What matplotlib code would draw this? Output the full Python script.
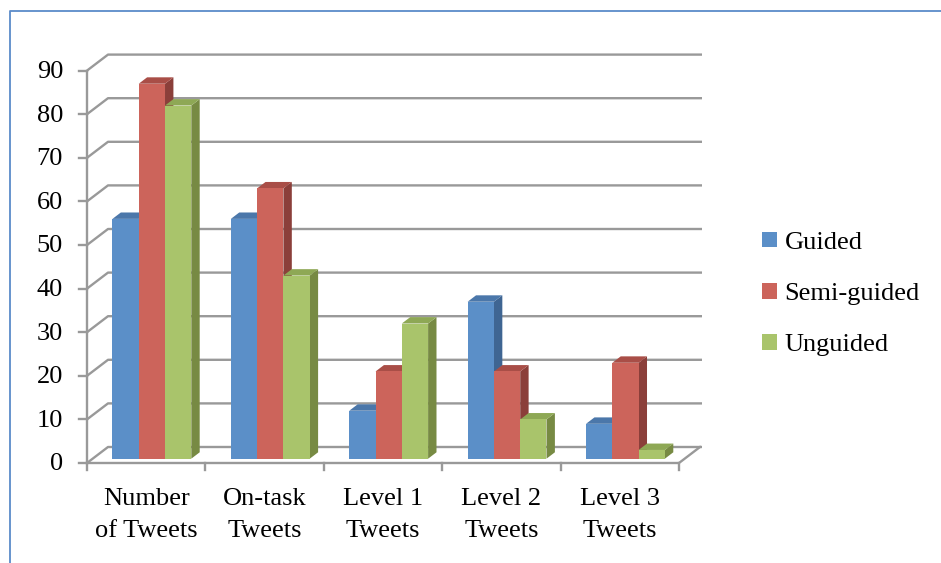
import matplotlib
matplotlib.use('Agg')
import matplotlib.pyplot as plt
from matplotlib.patches import Polygon, Patch
from matplotlib.lines import Line2D

# ---------------- data ----------------
categories = ['Number\nof Tweets', 'On-task\nTweets', 'Level 1\nTweets',
              'Level 2\nTweets', 'Level 3\nTweets']
series_names = ['Guided', 'Semi-guided', 'Unguided']
guided = [55, 55, 11, 36, 8]
semi_guided = [86, 62, 20, 20, 22]
unguided = [81, 42, 31, 9, 2]
y_ticks = [0, 10, 20, 30, 40, 50, 60, 70, 80, 90]

# ---------------- styles ----------------
front_colors = ['#5B8FC8', '#CC645B', '#A9C46B']
top_colors = ['#4B77AA', '#A94E47', '#8EA855']
side_colors = ['#3F6592', '#8B3F3A', '#778A43']
grid_color = '#999999'
font = 'Liberation Serif'
fs = 19

W, H = 941, 563
fig = plt.figure(figsize=(W / 100, H / 100), dpi=100)
ax = fig.add_axes([0, 0, 1, 1])

# pixel geometry of the plot
x0_px = 87.0      # front vertical axis
cat_px = 118.4    # width of one category slot
y0_px = 463.0     # value 0 on the front plane (from top)
unit_px = 4.36    # pixels per unit
ax.set_xlim(-0.5 - x0_px / cat_px, -0.5 + (W - x0_px) / cat_px)
ax.set_ylim((y0_px - H) / unit_px, y0_px / unit_px)
ax.axis('off')

DX = 21 / cat_px   # depth offset (x) of back wall
DY = 16 / unit_px  # depth offset (y) of back wall
n = len(categories)
xl, xr = -0.5, n - 0.5
ymax = y_ticks[-1]

glw = 1.7
# back-wall gridlines and left wall diagonals
for v in y_ticks:
    ax.plot([xl, xl + DX, xr + DX + 2 / cat_px], [v, v + DY, v + DY], color=grid_color,
            lw=glw, solid_capstyle='butt', zorder=1)
    # tick marks on the front axis
    ax.plot([xl - 8 / cat_px, xl], [v, v], color=grid_color, lw=glw, zorder=1)
    ax.text(xl - 24 / cat_px, v - 0.3, str(v), ha='right', va='center',
            fontsize=fs, family=font, color='black')

# front axis line
ax.plot([xl, xl], [0, ymax], color=grid_color, lw=glw, zorder=1)
# floor front edge and right edge
ax.plot([xl, xr, xr + DX], [0, 0, DY], color=grid_color, lw=glw, zorder=1)
for i in range(n + 1):
    ax.plot([xl + i, xl + i], [0, -7 / unit_px], color=grid_color, lw=glw, zorder=1)

# bars
series = [guided, semi_guided, unguided]
bw = 0.222
t0 = 0.27
tb = 0.40
z = 2
for i in range(n):
    for k, vals in enumerate(series):
        v = vals[i]
        x = i - 1.5 * bw + k * bw + t0 * DX
        b = t0 * DY
        ddx, ddy = tb * DX, tb * DY
        side = Polygon([(x + bw, b), (x + bw, b + v), (x + bw + ddx, b + v + ddy),
                        (x + bw + ddx, b + ddy)], closed=True,
                       facecolor=side_colors[k], edgecolor='none', zorder=z)
        top = Polygon([(x, b + v), (x + bw, b + v), (x + bw + ddx, b + v + ddy),
                       (x + ddx, b + v + ddy)], closed=True,
                      facecolor=top_colors[k], edgecolor='none', zorder=z)
        ax.add_patch(side)
        ax.add_patch(top)
        ax.bar(x, v, width=bw, bottom=b, align='edge', color=front_colors[k],
               edgecolor='none', zorder=z + 0.5)
        z += 1

# category labels
for i, c in enumerate(categories):
    ax.text(i, (y0_px - 515) / unit_px, c, ha='center', va='center',
            fontsize=fs, family=font, linespacing=1.55)

# legend
handles = [Patch(facecolor=front_colors[k], edgecolor='none') for k in range(3)]
fig.legend(handles, series_names, loc='center left',
           bbox_to_anchor=(762 / W, (H - 294) / H), frameon=False,
           prop={'family': font, 'size': fs}, handlelength=0.55, handleheight=0.55,
           handletextpad=0.3, labelspacing=1.1, borderpad=0, borderaxespad=0)

# chart border (top and left)
border = '#5B8BC9'
fig.add_artist(Line2D([9.5 / W, 9.5 / W, 1], [0, (H - 11) / H, (H - 11) / H],
                      transform=fig.transFigure, color=border, lw=1.3))

fig.savefig('out.png', dpi=100)
